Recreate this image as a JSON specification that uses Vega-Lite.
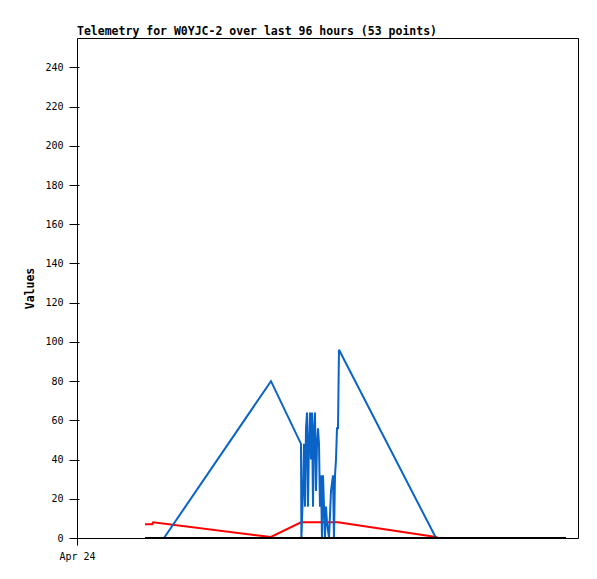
{
  "$schema": "https://vega.github.io/schema/vega-lite/v6.json",
  "width": 501,
  "height": 500,
  "autosize": {"type": "none"},
  "padding": {"left": 77, "top": 38, "right": 19, "bottom": 41},
  "background": "white",
  "title": {
    "text": "Telemetry for W0YJC-2 over last 96 hours (53 points)",
    "anchor": "start",
    "frame": "group",
    "font": "DejaVu Sans Mono",
    "fontSize": 11.5,
    "fontWeight": "bold",
    "color": "#000",
    "baseline": "bottom",
    "offset": -10
  },
  "config": {
    "view": {"stroke": "#000", "strokeWidth": 1},
    "axis": {"grid": false, "domain": false, "tickColor": "#000", "labelColor": "#000", "labelFont": "DejaVu Sans Mono", "labelFontSize": 10, "titleFont": "DejaVu Sans Mono", "titleFontSize": 11.5, "titleFontWeight": "bold", "titleColor": "#000"}
  },
  "data": {
    "values": [
      {"t": 13.03, "ch": "red", "v": 7},
      {"t": 14.4, "ch": "red", "v": 7},
      {"t": 14.6, "ch": "red", "v": 8},
      {"t": 37.17, "ch": "red", "v": 0.5},
      {"t": 42.92, "ch": "red", "v": 8},
      {"t": 50.01, "ch": "red", "v": 8},
      {"t": 68.79, "ch": "red", "v": 0.5},
      {"t": 69.2, "ch": "red", "v": 0},
      {"t": 93.7, "ch": "red", "v": 0},
      {"t": 13.03, "ch": "blue", "v": 0},
      {"t": 16.67, "ch": "blue", "v": 0},
      {"t": 37.17, "ch": "blue", "v": 80},
      {"t": 42.92, "ch": "blue", "v": 48},
      {"t": 43.0, "ch": "blue", "v": 0},
      {"t": 43.3, "ch": "blue", "v": 24},
      {"t": 43.5, "ch": "blue", "v": 48},
      {"t": 43.69, "ch": "blue", "v": 16},
      {"t": 43.88, "ch": "blue", "v": 56},
      {"t": 44.07, "ch": "blue", "v": 64},
      {"t": 44.26, "ch": "blue", "v": 16},
      {"t": 44.45, "ch": "blue", "v": 48},
      {"t": 44.65, "ch": "blue", "v": 64},
      {"t": 44.84, "ch": "blue", "v": 40},
      {"t": 45.03, "ch": "blue", "v": 64},
      {"t": 45.22, "ch": "blue", "v": 16},
      {"t": 45.41, "ch": "blue", "v": 56},
      {"t": 45.6, "ch": "blue", "v": 64},
      {"t": 45.8, "ch": "blue", "v": 24},
      {"t": 45.99, "ch": "blue", "v": 48},
      {"t": 46.18, "ch": "blue", "v": 56},
      {"t": 46.37, "ch": "blue", "v": 48},
      {"t": 46.56, "ch": "blue", "v": 16},
      {"t": 46.75, "ch": "blue", "v": 32},
      {"t": 46.94, "ch": "blue", "v": 0},
      {"t": 47.14, "ch": "blue", "v": 32},
      {"t": 47.33, "ch": "blue", "v": 16},
      {"t": 47.52, "ch": "blue", "v": 0},
      {"t": 47.71, "ch": "blue", "v": 16},
      {"t": 47.9, "ch": "blue", "v": 8},
      {"t": 48.29, "ch": "blue", "v": 0},
      {"t": 48.67, "ch": "blue", "v": 24},
      {"t": 49.05, "ch": "blue", "v": 32},
      {"t": 49.24, "ch": "blue", "v": 0},
      {"t": 49.44, "ch": "blue", "v": 32},
      {"t": 49.63, "ch": "blue", "v": 40},
      {"t": 49.82, "ch": "blue", "v": 56},
      {"t": 50.01, "ch": "blue", "v": 56},
      {"t": 50.2, "ch": "blue", "v": 96},
      {"t": 68.79, "ch": "blue", "v": 0},
      {"t": 93.7, "ch": "blue", "v": 0},
      {"t": 13.03, "ch": "black", "v": 0},
      {"t": 93.7, "ch": "black", "v": 0}
    ]
  },
  "mark": {"type": "line", "strokeWidth": 2, "interpolate": "linear"},
  "encoding": {
    "x": {
      "field": "t",
      "type": "quantitative",
      "scale": {"domain": [0, 96], "nice": false, "zero": false},
      "axis": {"title": null, "values": [0], "labelExpr": "'Apr 24'", "labelFlush": false, "labelAlign": "center", "tickSize": 7, "labelPadding": 6}
    },
    "y": {
      "field": "v",
      "type": "quantitative",
      "scale": {"domain": [0, 255], "nice": false},
      "axis": {"title": "Values", "values": [0, 20, 40, 60, 80, 100, 120, 140, 160, 180, 200, 220, 240], "tickSize": 10, "offset": -2, "labelPadding": 6, "titlePadding": 9}
    },
    "color": {
      "field": "ch",
      "type": "nominal",
      "scale": {"domain": ["red", "blue", "black"], "range": ["#ff0000", "#0a64c8", "#000000"]},
      "legend": null
    },
    "order": {"field": "t", "type": "quantitative"}
  }
}
